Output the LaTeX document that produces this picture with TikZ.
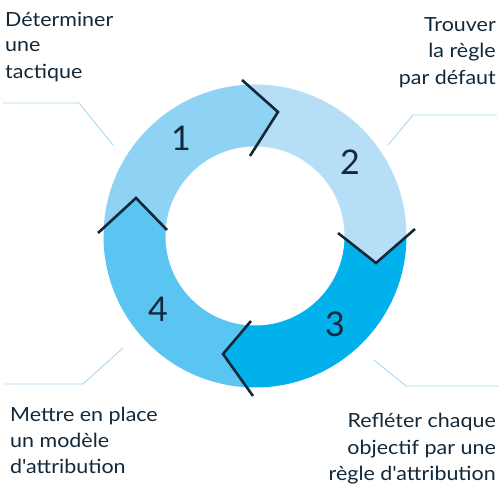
\documentclass[tikz,border=0pt]{standalone}
\usepackage{fontspec}
\setmainfont[FakeStretch=1.1]{Lato}
\newfontfamily\numfont{Lato}
\usetikzlibrary{calc}
\definecolor{cone}{HTML}{8ED3F4}
\definecolor{ctwo}{HTML}{B6DFF7}
\definecolor{cthree}{HTML}{00B1EB}
\definecolor{cfour}{HTML}{5BC5F1}
\definecolor{navy}{HTML}{13293A}
\definecolor{leader}{HTML}{A9DAF3}
\tikzset{
  chev/.style={draw=navy, line width=2.6pt, line join=miter, line cap=butt},
  num/.style={text=navy, font=\numfont\fontsize{34}{36}\selectfont, inner sep=0pt},
  lbl/.style={text=navy, font=\fontsize{19.5}{26}\selectfont, inner sep=0pt},
  leadline/.style={draw=leader, line width=0.9pt},
}
\begin{document}
\begin{tikzpicture}[x=1pt,y=1pt]
\useasboundingbox (0,0) rectangle (500,500);
\fill[white] (0,0) rectangle (500,500);
\coordinate (C) at (255,264);
% chevron points
\coordinate (O1) at (242,420); \coordinate (T1) at (278,388); \coordinate (I1) at (250,344);
\coordinate (O2) at (415,271); \coordinate (T2) at (376,237); \coordinate (I2) at (338,267);
\coordinate (O3) at (253,104); \coordinate (T3) at (223,146); \coordinate (I3) at (251,179);
\coordinate (O4) at (98,267);  \coordinate (T4) at (136,302); \coordinate (I4) at (167,270);
\coordinate (F1) at ($(C)!2!(O1)$);
\coordinate (F2) at ($(C)!2!(O2)$);
\coordinate (F3) at ($(C)!2!(O3)$);
\coordinate (F4) at ($(C)!2!(O4)$);
\begin{scope}
  \clip (C) circle (151.5);
  \fill[cone]   (C) -- (I4) -- (T4) -- (O4) -- (F4) -- (F1) -- (O1) -- (T1) -- (I1) -- cycle;
  \fill[ctwo]   (C) -- (I1) -- (T1) -- (O1) -- (F1) -- (F2) -- (O2) -- (T2) -- (I2) -- cycle;
  \fill[cthree] (C) -- (I2) -- (T2) -- (O2) -- (F2) -- (F3) -- (O3) -- (T3) -- (I3) -- cycle;
  \fill[cfour]  (C) -- (I3) -- (T3) -- (O3) -- (F3) -- (F4) -- (O4) -- (T4) -- (I4) -- cycle;
  \fill[white] (C) circle (89.5);
\end{scope}
\draw[chev] (O1) -- (T1) -- (I1);
\draw[chev] (O2) -- (T2) -- (I2);
\draw[chev] (I3) -- (T3) -- (O3);
\draw[chev] (O4) -- (T4) -- (I4);
% numbers
\node[num] (n1) at (181,362) {1};
\node[num] (n2) at (350,338) {2};
\node[num] (n3) at (335,176) {3};
\node[num] (n4) at (158,191) {4};
% labels
\node[lbl, anchor=base west] (a1) at (5,473) {Déterminer};
\node[lbl, anchor=base west] (a2) at (5,448) {une};
\node[lbl, anchor=base west] (a3) at (5,421) {tactique};
\node[lbl, anchor=base east] (b1) at (496,468) {Trouver};
\node[lbl, anchor=base east] (b2) at (496,442) {la règle};
\node[lbl, anchor=base east] (b3) at (496,415) {par défaut};
\node[lbl, anchor=base west] (c1) at (10,78) {Mettre en place};
\node[lbl, anchor=base west] (c2) at (10,52) {un modèle};
\node[lbl, anchor=base west] (c3) at (10,26) {d\textquotesingle attribution};
\node[lbl, anchor=base east] (d1) at (496,72) {Refléter chaque};
\node[lbl, anchor=base east] (d2) at (496,45) {objectif par une};
\node[lbl, anchor=base east] (d3) at (496,19) {règle d\textquotesingle attribution};
% leader lines
\coordinate (la) at (3,397); \coordinate (lb) at (79,397); \coordinate (lc) at (113,355);
\draw[leadline] (la) -- (lb) -- (lc);
\coordinate (ra) at (497,385); \coordinate (rb) at (413,385); \coordinate (rc) at (388,355);
\draw[leadline] (ra) -- (rb) -- (rc);
\coordinate (ma) at (5,116); \coordinate (mb) at (83,116); \coordinate (mc) at (123,152);
\draw[leadline] (ma) -- (mb) -- (mc);
\coordinate (sa) at (498,114); \coordinate (sb) at (406,114); \coordinate (sc) at (374,140);
\draw[leadline] (sa) -- (sb) -- (sc);
\end{tikzpicture}
\end{document}
